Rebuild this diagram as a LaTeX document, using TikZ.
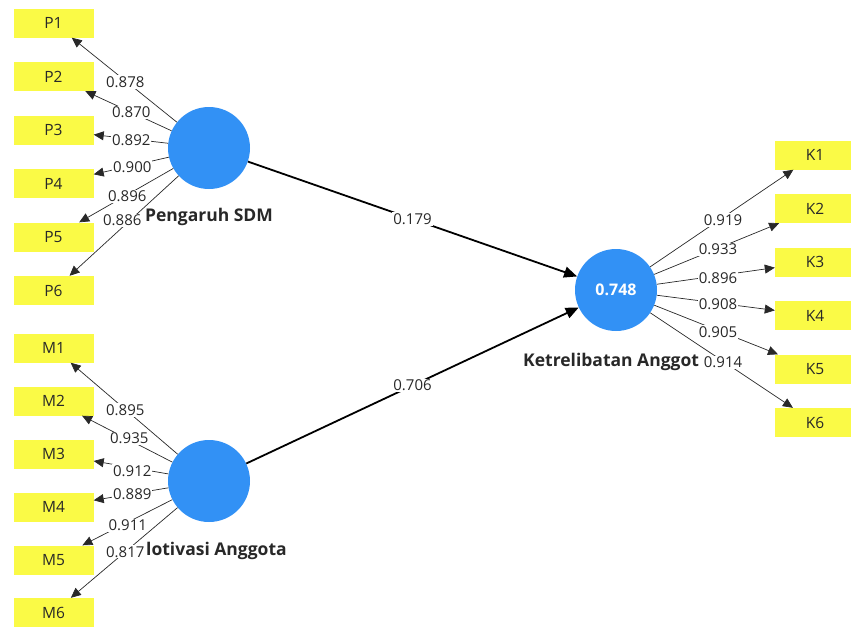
\documentclass[tikz,border=0pt]{standalone}
\usepackage{fontspec}
\setmainfont{Open Sans}
\usetikzlibrary{arrows.meta}
\definecolor{indyellow}{RGB}{250,250,70}
\definecolor{latblue}{RGB}{50,145,245}
\definecolor{inktext}{RGB}{40,40,40}
\begin{document}
\begin{tikzpicture}[x=1pt,y=-1pt,
  indicator/.style={fill=indyellow, minimum width=80pt, minimum height=29pt, inner sep=0pt,
                    font=\fontsize{15.5}{17}\selectfont, text=inktext},
  latent/.style={circle, fill=latblue, minimum size=82pt, inner sep=0pt,
                 font=\bfseries\fontsize{16}{18}\selectfont, text=white},
  cname/.style={inner sep=0pt, font=\bfseries\fontsize{17.5}{19}\selectfont, text=inktext},
  load/.style={draw=inktext, line width=0.7pt, -{Triangle[length=10pt,width=9pt]}},
  struct/.style={draw=black, line width=1.8pt, -{Triangle[length=13pt,width=11pt]}},
  coef/.style={fill=white, inner sep=1pt, font=\fontsize{15}{17}\selectfont, text=inktext},
]
\useasboundingbox (0,0) rectangle (851,630);
\clip (0,0) rectangle (851,630);

% indicator boxes
\foreach \i/\y in {1/23,2/76.5,3/130,4/183.5,5/237,6/290.5}
  \node[indicator] (p\i) at (53.5,\y) {P\i};
\foreach \i/\y in {1/348,2/401,3/454,4/507,5/560,6/612.5}
  \node[indicator] (m\i) at (53.5,\y) {M\i};
\foreach \i/\y in {1/155,2/208.5,3/262,4/315.5,5/369,6/422.5}
  \node[indicator] (k\i) at (815,\y) {K\i};

% latent variables
\node[latent] (sdm) at (209,148) {};
\node[latent] (mot) at (209,481) {};
\node[latent] (ket) at (616,290) {0.748};

% outer loadings
\foreach \i in {1,...,6} {
  \draw[load] (sdm) -- (p\i);
  \draw[load] (mot) -- (m\i);
  \draw[load] (ket) -- (k\i);
}

% structural paths
\draw[struct] (sdm) -- (ket);
\draw[struct] (mot) -- (ket);

% construct names
\node[cname, anchor=base] (sdmname) at (209,221.5) {Pengaruh SDM};
\node[cname, anchor=base west] (motname) at (146,555) {lotivasi Anggota};
\node[cname, anchor=base west] (ketname) at (523,366) {Ketrelibatan Anggot};

% loading values (value / horizontal and vertical nudge)
\foreach \i/\v/\dx/\dy in {1/0.878/-6/3.5, 2/0.870/0/0, 3/0.892/0/-1, 4/0.900/1/-1,
                          5/0.896/-4/-4, 6/0.886/-9/-1}
  \path (sdm.center) -- (p\i.center) node[coef, pos=0.5, xshift=\dx pt, yshift=\dy pt] {\v};
\foreach \i/\v/\dx/\dy in {1/0.895/-6/4.5, 2/0.935/-2/2.5, 3/0.912/1/-3.5, 4/0.889/1/0,
                          5/0.911/-3.5/-5, 6/0.817/-6/-5}
  \path (mot.center) -- (m\i.center) node[coef, pos=0.5, xshift=\dx pt, yshift=\dy pt] {\v};
\foreach \i/\v/\dx/\dy in {1/0.919/7.5/2.5, 2/0.933/2.5/0, 3/0.896/2.5/-2, 4/0.908/2.5/-1,
                          5/0.905/2.5/-2.5, 6/0.914/7.5/-6}
  \path (ket.center) -- (k\i.center) node[coef, pos=0.5, xshift=\dx pt, yshift=\dy pt] {\v};

% path coefficients
\path (sdm.center) -- (ket.center) node[coef, pos=0.5] {0.179};
\path (mot.center) -- (ket.center) node[coef, pos=0.5] {0.706};
\end{tikzpicture}
\end{document}
